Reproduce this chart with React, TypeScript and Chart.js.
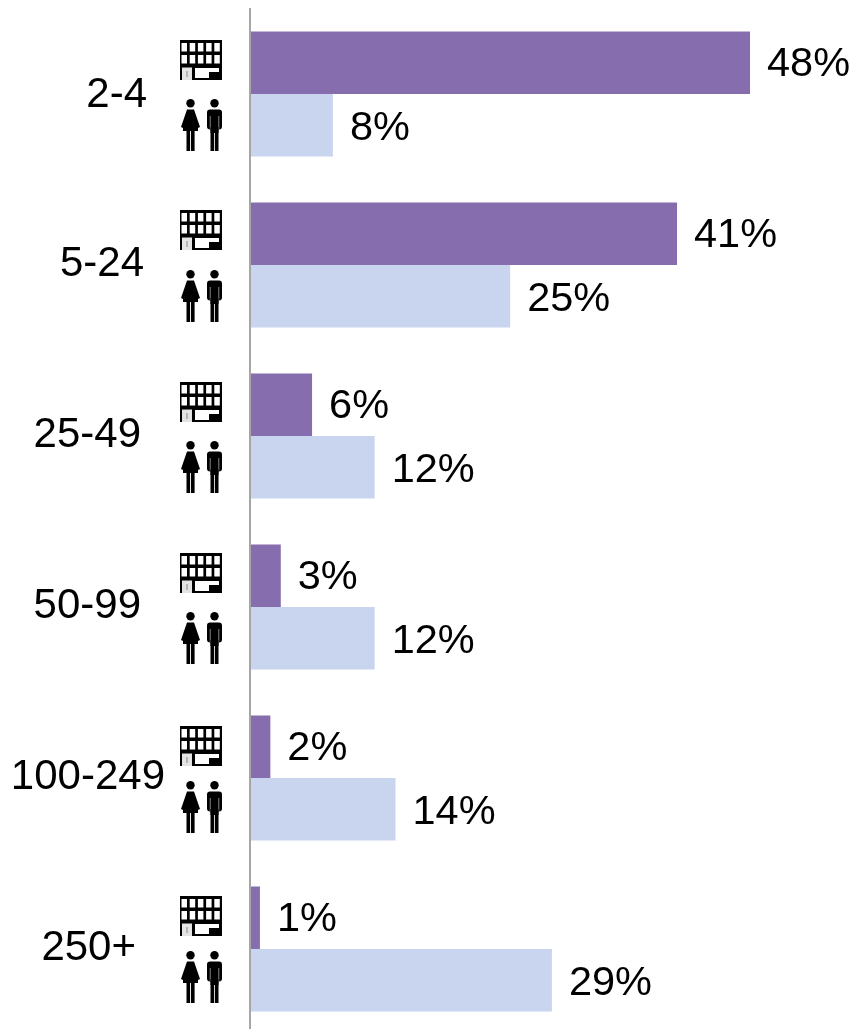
import React, { useEffect, useRef } from "react";
import { Chart, registerables } from "chart.js";

Chart.register(...registerables);

const categories = ["2-4", "5-24", "25-49", "50-99", "100-249", "250+"];
const businesses = [48, 41, 6, 3, 2, 1];
const employees = [8, 25, 12, 12, 14, 29];

const LABEL_FONT = '42px "Liberation Sans", Arial, sans-serif';
const VALUE_FONT = '41.5px "Liberation Sans", Arial, sans-serif';
const labelRightEdges = [147, 144, 141, 141, 165, 136];
const labelShiftY = [1, -1, -1, -1, -1, -1];
const buildingShiftY = [-54, -55, -54, -54, -52, -53];
const peopleShiftY = [5, 5, 5, 5, 3, 2];

function drawBuilding(ctx: CanvasRenderingContext2D, x: number, y: number) {
  ctx.fillStyle = "#000";
  ctx.fillRect(x, y, 42, 40);
  ctx.fillStyle = "#fff";
  for (let r = 0; r < 2; r++) {
    for (let c = 0; c < 5; c++) {
      ctx.fillRect(x + 1.5 + c * 8.2, y + 3 + r * 12, 5.5, 8.5);
    }
  }
  ctx.fillStyle = "#e4e4e4";
  ctx.fillRect(x + 2, y + 27.5, 10, 12.5);
  ctx.fillStyle = "#888";
  ctx.fillRect(x + 6.5, y + 31, 1, 6);
  ctx.fillStyle = "#fff";
  ctx.beginPath();
  ctx.moveTo(x + 15, y + 28);
  ctx.lineTo(x + 39, y + 28);
  ctx.lineTo(x + 39, y + 32);
  ctx.lineTo(x + 29, y + 32);
  ctx.lineTo(x + 29, y + 38);
  ctx.lineTo(x + 15, y + 38);
  ctx.closePath();
  ctx.fill();
}

function drawWoman(ctx: CanvasRenderingContext2D, x: number, y: number) {
  ctx.fillStyle = "#000";
  ctx.beginPath();
  ctx.arc(x + 9.5, y + 4.2, 4.2, 0, Math.PI * 2);
  ctx.fill();
  ctx.beginPath();
  ctx.moveTo(x + 6, y + 10.5);
  ctx.lineTo(x + 13, y + 10.5);
  ctx.lineTo(x + 19, y + 28);
  ctx.lineTo(x + 17, y + 29);
  ctx.lineTo(x + 17, y + 32);
  ctx.lineTo(x + 2, y + 32);
  ctx.lineTo(x + 2, y + 29);
  ctx.lineTo(x, y + 28);
  ctx.closePath();
  ctx.fill();
  ctx.fillRect(x + 5.5, y + 31, 3.6, 21);
  ctx.fillRect(x + 10, y + 31, 3.6, 21);
}

function drawMan(ctx: CanvasRenderingContext2D, x: number, y: number) {
  ctx.fillStyle = "#000";
  ctx.beginPath();
  ctx.arc(x + 7.5, y + 4.2, 4.2, 0, Math.PI * 2);
  ctx.fill();
  ctx.beginPath();
  ctx.roundRect(x, y + 10.5, 15, 20, 3);
  ctx.fill();
  ctx.fillStyle = "#bbb";
  ctx.fillRect(x + 2.8, y + 17, 0.7, 14);
  ctx.fillRect(x + 11.5, y + 17, 0.7, 14);
  ctx.fillStyle = "#000";
  ctx.fillRect(x + 3.5, y + 28, 8, 6);
  ctx.fillRect(x + 3.5, y + 30, 3.6, 22);
  ctx.fillRect(x + 7.9, y + 30, 3.6, 22);
}

const extras = {
  id: "extras",
  afterDatasetsDraw(chart: any) {
    const { ctx } = chart;
    const yScale = chart.scales.y;
    ctx.save();
    categories.forEach((name, i) => {
      const cy = yScale.getPixelForValue(i);
      ctx.font = LABEL_FONT;
      ctx.fillStyle = "#000";
      ctx.textAlign = "right";
      ctx.textBaseline = "middle";
      ctx.fillText(name, labelRightEdges[i], cy + labelShiftY[i]);
      drawBuilding(ctx, 180, cy + buildingShiftY[i]);
      drawWoman(ctx, 181, cy + peopleShiftY[i]);
      drawMan(ctx, 207, cy + peopleShiftY[i]);
    });
    ctx.font = VALUE_FONT;
    ctx.fillStyle = "#000";
    ctx.textAlign = "left";
    ctx.textBaseline = "middle";
    chart.data.datasets.forEach((ds: any, d: number) => {
      chart.getDatasetMeta(d).data.forEach((bar: any, i: number) => {
        ctx.fillText(`${ds.data[i]}%`, bar.x + 17, bar.y + (d === 0 ? 2 : 3));
      });
    });
    ctx.restore();
  },
};

export default function App() {
  const ref = useRef<HTMLCanvasElement>(null);
  useEffect(() => {
    const chart = new Chart(ref.current!, {
      type: "bar",
      data: {
        labels: categories,
        datasets: [
          { label: "Businesses", data: businesses, backgroundColor: "#866DAE" },
          { label: "Employees", data: employees, backgroundColor: "#C9D4EF" },
        ],
      },
      options: {
        indexAxis: "y",
        animation: false,
        responsive: false,
        maintainAspectRatio: false,
        layout: { padding: { left: 241.5, top: 8.5, right: 1.7, bottom: 1.5 } },
        datasets: { bar: { categoryPercentage: 125 / 171, barPercentage: 1 } },
        plugins: { legend: { display: false }, title: { display: false }, tooltip: { enabled: false } },
        scales: {
          x: {
            min: 0,
            max: 58,
            display: false,
          },
          y: {
            grid: { display: false },
            ticks: { display: false },
            border: { display: true, color: "#A6A6A6", width: 2, z: 1 },
          },
        },
      },
      plugins: [extras],
    } as any);
    return () => chart.destroy();
  }, []);
  return (
    <div style={{ position: "absolute", left: 0, top: 0, width: 856, height: 1029, overflow: "hidden", background: "#fff" }}>
      <canvas ref={ref} width={856} height={1036} style={{ display: "block" }} />
    </div>
  );
}
